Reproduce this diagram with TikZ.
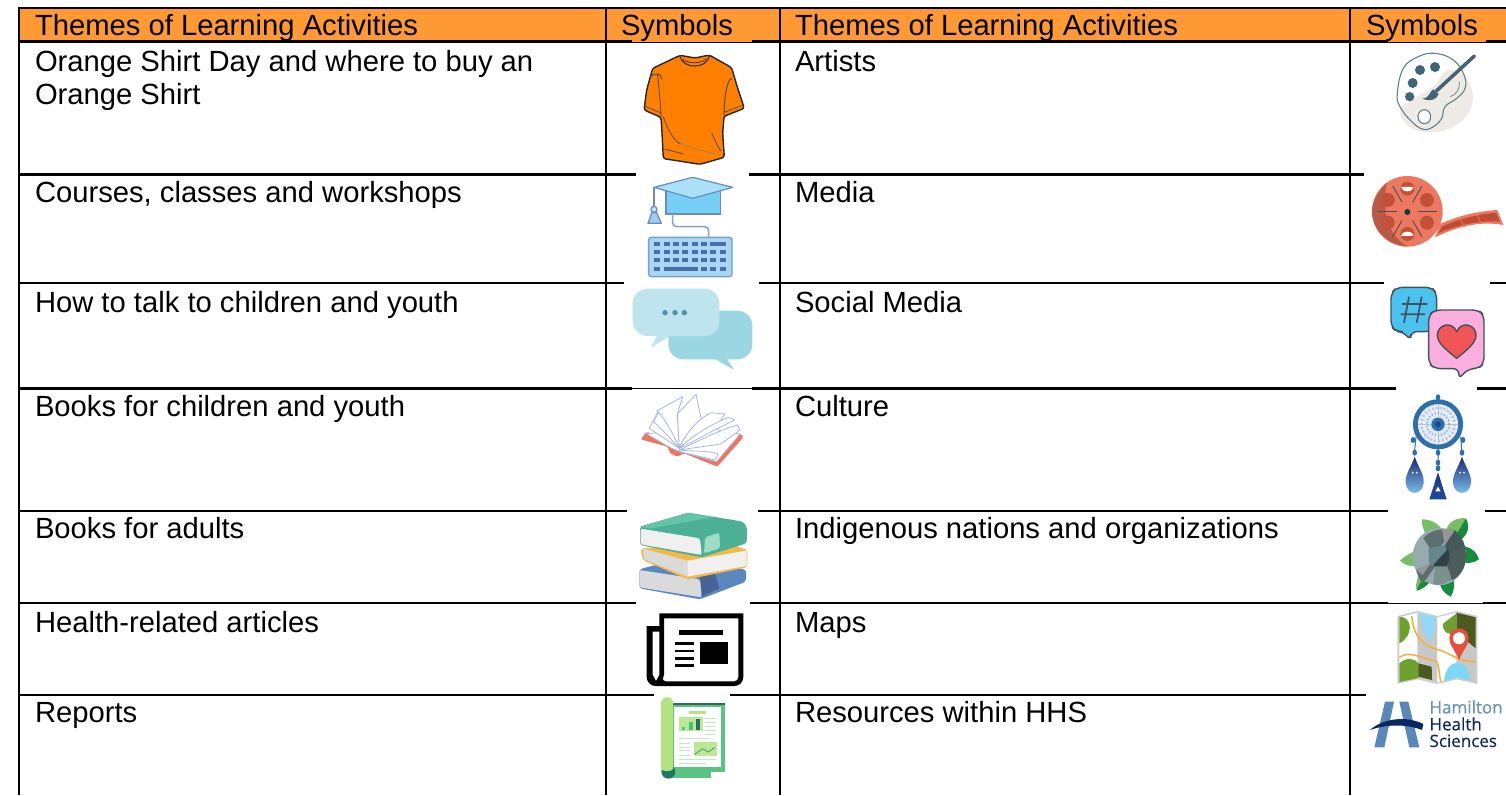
\documentclass[tikz,border=0pt]{standalone}
\usepackage{fontspec}
\setmainfont{Liberation Sans}
\newfontfamily\logofont[FakeBold=0.35]{Open Sans}
\usetikzlibrary{calc}
\definecolor{hdr}{HTML}{FF9933}
\definecolor{shirt}{HTML}{FF8000}
\definecolor{capb}{HTML}{76D0F5}
\definecolor{capl}{HTML}{AAE0F8}
\definecolor{capline}{HTML}{698CBE}
\definecolor{capbead}{HTML}{C3E4F5}
\definecolor{captri}{HTML}{A0CDEE}
\definecolor{capwire}{HTML}{87A0CD}
\definecolor{keyb}{HTML}{AAD6F5}
\definecolor{keyline}{HTML}{78A0CD}
\definecolor{keyk}{HTML}{4B6EA5}
\definecolor{bubd}{HTML}{9BD7E2}
\definecolor{bubl}{HTML}{BEE4ED}
\definecolor{bubdot}{HTML}{558CAF}
\definecolor{bookred}{HTML}{EC7662}
\definecolor{pageline}{HTML}{A5B9DE}
\definecolor{stkblue}{HTML}{5A87C0}
\definecolor{stknavy}{HTML}{486496}
\definecolor{stkgrey}{HTML}{DADADA}
\definecolor{stkyel}{HTML}{F2B948}
\definecolor{stkwhite}{HTML}{F0F0F0}
\definecolor{stkgreen}{HTML}{4AB096}
\definecolor{stkgreenl}{HTML}{64C3A8}
\definecolor{stkmint}{HTML}{A0DCC8}
\definecolor{repgreen}{HTML}{5AC382}
\definecolor{repdark}{HTML}{1E7864}
\definecolor{repdk}{HTML}{286E5F}
\definecolor{replime}{HTML}{B4E482}
\definecolor{replimeb}{HTML}{BAE896}
\definecolor{repmid}{HTML}{4BBE78}
\definecolor{repline}{HTML}{BEE8C8}
\definecolor{repchart}{HTML}{3C8264}
\definecolor{palbg}{HTML}{EEEAE4}
\definecolor{palline}{HTML}{5F8291}
\definecolor{paldk}{HTML}{416476}
\definecolor{reel}{HTML}{EB785F}
\definecolor{reeld}{HTML}{BE4B32}
\definecolor{reeldd}{HTML}{B85A44}
\definecolor{reelh}{HTML}{C35037}
\definecolor{reels}{HTML}{46505A}
\definecolor{reelc}{HTML}{0F3746}
\definecolor{smblue}{HTML}{4BC3F0}
\definecolor{smline}{HTML}{46505A}
\definecolor{smpink}{HTML}{FAAFDE}
\definecolor{smred}{HTML}{F25555}
\definecolor{dcb}{HTML}{2D6EAF}
\definecolor{dcp}{HTML}{AFC3DC}
\definecolor{dcq}{HTML}{78A0CD}
\definecolor{dcc}{HTML}{144B91}
\definecolor{dcn}{HTML}{192878}
\definecolor{dcl}{HTML}{82C8F0}
\definecolor{dcm}{HTML}{1955A0}
\definecolor{dct}{HTML}{1E4696}
\definecolor{dcu}{HTML}{1E3782}
\definecolor{tla}{HTML}{78BE64}
\definecolor{tlb}{HTML}{148C3C}
\definecolor{tga}{HTML}{95ABAE}
\definecolor{tgb}{HTML}{5C6E6E}
\definecolor{tgc}{HTML}{969696}
\definecolor{tgd}{HTML}{46585A}
\definecolor{tge}{HTML}{64878C}
\definecolor{tgf}{HTML}{4B5C5A}
\definecolor{tgg}{HTML}{2D4146}
\definecolor{tgh}{HTML}{7D918C}
\definecolor{mapg}{HTML}{CDCDCD}
\definecolor{mapi}{HTML}{C8C8C8}
\definecolor{mapa}{HTML}{6EA02D}
\definecolor{mapb}{HTML}{4B5A1E}
\definecolor{mapw}{HTML}{91DAF5}
\definecolor{mapx}{HTML}{7DD7F5}
\definecolor{mapr}{HTML}{F5AF32}
\definecolor{mapp}{HTML}{E84E3E}
\definecolor{hhl}{HTML}{5A87B9}
\definecolor{hht}{HTML}{6491BE}
\definecolor{hhd}{HTML}{0A285F}
\tikzset{
 cell/.style={anchor=base west,inner sep=0pt,outer sep=0pt,font=\fontsize{29.2}{29.2}\selectfont,text=black},
 rule/.style={line width=2.2pt,black},
 thinrule/.style={line width=1pt,black},
 zoomed/.style={x=0.33333pt,y=-0.33333pt},
 logotext/.style={anchor=base west,inner sep=0pt,font=\logofont\fontsize{17}{17}\selectfont},
}
\begin{document}
\begin{tikzpicture}[x=1pt,y=-1pt]
\useasboundingbox (0,0) rectangle (1506,795);
\fill[white] (0,0) rectangle (1506,795);
\fill[hdr] (19,9) rectangle (1506,41.5);
% rules
\draw[rule] (19,8) -- (1506,8);
\foreach \x in {19,606,780,1350}{\draw[rule] (\x,7) -- (\x,795);}
\draw[rule] (19,41.5) -- (632,41.5);
\draw[thinrule] (632,42) -- (752,42);
\draw[rule] (752,41.5) -- (1388,41.5);
\draw[thinrule] (1388,42) -- (1486,42);
\draw[rule] (1486,41.5) -- (1506,41.5);
\foreach \y/\a/\b/\c/\d in {
 174.5/636/749/1364/1506,
 282.7/624/759/1384/1490,
 388.5/632/752/1396/1477,
 510.7/627/758/1388/1485,
 602.7/636/750/1388/1483,
 694.7/654/730/1366/1506}{
  \draw[rule] (19,\y) -- (\a,\y);
  \draw[rule] (\b,\y) -- (\c,\y);
  \draw[rule] (\d,\y) -- (1506,\y);
}
\draw[thinrule] (632,388.5) -- (752,388.5);
\draw[thinrule] (1388,603) -- (1483,603);
% text
\node[cell] (h1) at (35,35) {Themes of Learning Activities};
\node[cell] (s1) at (621,35) {Symbols};
\node[cell] (h2) at (795,35) {Themes of Learning Activities};
\node[cell] (s2) at (1366,35) {Symbols};
\node[cell] (l1a) at (35,71) {Orange Shirt Day and where to buy an};
\node[cell] (l1b) at (35,104) {Orange Shirt};
\node[cell] (l2) at (35,202) {Courses, classes and workshops};
\node[cell] (l3) at (35,312) {How to talk to children and youth};
\node[cell] (l4) at (35,416) {Books for children and youth};
\node[cell] (l5) at (35,538) {Books for adults};
\node[cell] (l6) at (35,632) {Health-related articles};
\node[cell] (l7) at (35,722) {Reports};
\node[cell] (r1) at (795,71) {Artists};
\node[cell] (r2) at (795,202) {Media};
\node[cell] (r3) at (795,312) {Social Media};
\node[cell] (r4) at (795,416) {Culture};
\node[cell] (r5) at (795,538) {Indigenous nations and organizations};
\node[cell] (r6) at (795,632) {Maps};
\node[cell] (r7) at (795,722) {Resources within HHS};

% ---------- left icons, zoom 1
\begin{scope}[shift={(600,0)},zoomed]
% t-shirt
\draw[fill=shirt,draw=black!85,line width=1.4pt,line join=round,rounded corners=2.5pt]
 (240,166) -- (285,174) -- (328,165) -- (395,203) -- (410,255) -- (433,325) -- (372,349) -- (368,400) -- (373,472) -- (300,493) -- (250,485) -- (190,476) -- (186,400) -- (183,352) -- (132,330) -- (140,270) -- (158,205) -- cycle;
\draw[black!85,line width=1pt] (240,170) .. controls (250,208) and (320,208) .. (328,168);
\draw[black!85,line width=.7pt] (248,178) .. controls (265,192) and (305,192) .. (320,176);
\draw[black!70,line width=1pt] (150,232) .. controls (165,215) and (185,220) .. (185,238);
\draw[black!70,line width=.8pt] (172,222) .. controls (178,270) and (182,320) .. (183,352);
\draw[black!70,line width=1pt] (395,235) .. controls (378,240) and (372,310) .. (372,347);
\draw[black!70,line width=.7pt] (134,318) -- (186,340) (372,337) -- (430,315);
\draw[black!70,line width=.8pt] (190,350) .. controls (205,395) and (220,415) .. (238,432);
\draw[black!70,line width=.8pt] (195,448) .. controls (215,452) and (235,458) .. (250,462);
\draw[black!70,line width=.8pt] (335,400) .. controls (345,420) and (350,435) .. (362,452);
\draw[black!50,line width=.6pt] (225,420) .. controls (265,445) and (305,450) .. (345,462);
% grad cap
\draw[fill=capb,draw=capline,line width=1.2pt] (198,570) rectangle (362,642);
\draw[fill=capl,draw=capline,line width=1.2pt,line join=round] (162,562) -- (278,532) -- (398,562) -- (278,595) -- cycle;
\draw[capline,line width=1.2pt] (162,562) -- (162,620);
\draw[fill=capbead,draw=capline,line width=1.2pt] (162,628) circle (9);
\draw[fill=captri,draw=capline,line width=1.2pt,line join=round] (155,638) -- (170,638) -- (184,670) -- (144,670) -- cycle;
\draw[capwire,line width=1.6pt,rounded corners=4pt] (218,642) -- (218,680) -- (326,680) -- (326,712);
\draw[fill=keyb,draw=keyline,line width=1.4pt,rounded corners=2.5pt] (146,712) rectangle (396,830);
\foreach \yy in {727,750,774}{
  \foreach \xx in {163,191,219,247,275,303}{\fill[keyk] (\xx,\yy) rectangle +(18,12);}
}
\fill[keyk] (331,727) rectangle (377,739);
\foreach \yy in {750,774}{\foreach \xx in {331,359}{\fill[keyk] (\xx,\yy) rectangle +(18,12);}}
\fill[keyk] (163,802) rectangle +(18,12);
\fill[keyk] (191,802) rectangle (293,814);
\foreach \xx in {303,331,359}{\fill[keyk] (\xx,802) rectangle +(18,12);}
\end{scope}

% ---------- left icons, zoom 2
\begin{scope}[shift={(600,280)},zoomed]
% bubbles
\fill[bubd,rounded corners=15pt] (205,92) rectangle (457,238);
\fill[bubd] (340,234) -- (402,270) -- (378,232) -- cycle;
\fill[bubl,rounded corners=15pt] (98,26) rectangle (358,168);
\fill[bubl] (172,164) -- (152,203) -- (205,172) -- (205,164) -- cycle;
\foreach \xx in {195,225,253}{\fill[bubdot] (\xx,98) circle (8);}
% open book
\fill[bookred,rounded corners=1.5pt] (122,478) -- (140,455) -- (240,500) -- (425,462) -- (430,472) -- (352,560) -- (252,520) -- (232,530) -- (210,520) -- (203,500) -- cycle;
\begin{scope}[fill=white,draw=pageline,line width=.8pt,line join=round]
\filldraw (140,462) -- (215,505) -- (240,515) -- (350,545) -- (420,462) -- (300,440) -- cycle;
\filldraw (148,445) -- (175,392) -- (238,505) -- cycle;
\filldraw (160,425) -- (178,395) -- (235,480) -- (238,505) .. controls (205,470) and (180,440) .. (160,425) -- cycle;
\filldraw (172,392) -- (248,350) -- (232,402) -- (238,505) .. controls (220,460) and (195,420) .. (172,392) -- cycle;
\filldraw (232,402) -- (288,343) -- (305,425) .. controls (270,445) and (250,475) .. (238,505) -- cycle;
\filldraw (238,505) .. controls (260,450) and (305,410) .. (335,398) -- (375,402) -- (355,430) .. controls (310,445) and (270,480) .. (238,505) -- cycle;
\filldraw (238,505) .. controls (280,465) and (330,435) .. (385,412) -- (405,420) .. controls (340,450) and (290,480) .. (238,505) -- cycle;
\filldraw (238,510) .. controls (300,480) and (360,450) .. (412,435) -- (420,450) -- (362,492) .. controls (320,498) and (270,505) .. (238,510) -- cycle;
\filldraw (238,510) .. controls (275,515) and (320,510) .. (355,522) -- (345,540) -- (240,515) -- cycle;
\end{scope}
% stack of books
\fill[stkblue,rounded corners=3pt] (118,868) -- (165,855) -- (438,868) -- (438,905) -- (300,958) -- (118,925) -- cycle;
\fill[stknavy] (300,890) -- (345,880) -- (358,925) -- (305,950) -- cycle;
\fill[stkgrey,rounded corners=2pt] (118,870) -- (300,898) -- (305,952) -- (118,922) -- cycle;
\fill[stkyel,rounded corners=3pt] (122,805) -- (400,795) -- (442,810) -- (442,862) -- (262,898) -- (128,840) -- cycle;
\fill[stkgrey] (128,805) -- (262,842) -- (262,890) -- (132,838) -- cycle;
\fill[stkwhite] (262,842) -- (440,812) -- (440,858) -- (262,890) -- cycle;
\fill[stkgreen,rounded corners=3pt] (120,740) -- (265,698) -- (430,725) -- (442,745) -- (440,790) -- (305,832) -- (120,795) -- cycle;
\fill[stkgreenl] (120,740) -- (265,698) -- (340,712) -- (150,745) -- cycle;
\fill[stkwhite,rounded corners=2pt] (122,746) -- (300,775) -- (305,825) -- (122,793) -- cycle;
\fill[stkmint,rounded corners=2pt] (315,772) -- (358,758) -- (360,805) -- (312,820) -- cycle;
\end{scope}

% ---------- left icons, zoom 3
\begin{scope}[shift={(600,600)},zoomed]
% newspaper
\path[fill=black,even odd rule] (178,40) -- (430,40) [rounded corners=9pt] -- (430,258) -- (140,258) -- (140,200) [sharp corners] -- (140,78) -- (178,78) -- cycle
  (192,55) -- (415,55) [rounded corners=4pt] -- (415,244) -- (185,244) [sharp corners] -- (192,225) -- cycle
  (158,95) -- (178,95) -- (178,225) -- (168,243) -- (158,225) -- cycle;
\fill (238,90) rectangle (368,104);
\fill (299,127) rectangle (383,193);
\foreach \yy in {127,149,171,192}{\fill (226,\yy) rectangle (281,\yy+8);}
% report
\fill[repgreen] (200,310) rectangle (375,515);
\fill[repdk] (215,310) -- (375,310) -- (375,316) -- (215,316) -- cycle;
\fill[repgreen] (200,505) rectangle (332,535);
\fill[repdark] (205,515) circle (21);
\fill[replime] (183,310) rectangle (220,505);
\fill[replime] (201.5,310) circle (18.5);
\fill[replime] (201.5,505) ellipse (18.5 and 8);
\fill[white] (222,322) rectangle (363,502);
\fill[replime] (268,333) rectangle (318,342);
\fill[replimeb] (237,351) rectangle (308,393);
\fill[repgreen] (245,380) rectangle (256,389);
\fill[repmid] (267,366) rectangle (279,389);
\fill[repdk] (289,356) rectangle (301,389);
\foreach \yy in {355,367,379,391,403}{\draw[repline,line width=.8pt] (316,\yy) -- (349,\yy);}
\draw[repline,line width=1pt] (237,416) -- (329,416);
\foreach \yy in {430,441,452,465}{\draw[repline,line width=.8pt] (237,\yy) -- (271,\yy);}
\fill[replimeb] (281,427) rectangle (350,467);
\draw[repchart,line width=.6pt] (284,463) -- (308,446) -- (325,456) -- (345,442);
\draw[repline,line width=1pt] (237,477) -- (349,477);
\draw[repline,line width=1pt] (237,489) -- (318,489);
\end{scope}

% ---------- right icons, zoom 4
\begin{scope}[shift={(1340,0)},zoomed]
% palette
\fill[palbg] plot[smooth cycle,tension=.7] coordinates {(180,335) (215,300) (280,260) (320,212) (370,225) (398,280) (385,340) (340,380) (285,396) (215,385)};
\draw[palline,line width=1.1pt] plot[smooth cycle,tension=.7] coordinates {(172,280) (190,205) (235,170) (285,160) (340,180) (372,225) (375,265) (350,295) (315,320) (305,355) (280,380) (250,388) (215,365) (180,320)};
\draw[palline,line width=1.1pt,fill=white] (253,350) ellipse (19 and 21);
\foreach \xx/\yy/\rr in {240/210/15,285/201/15,218/249/15,209/290/14}{\fill[paldk] (\xx,\yy) circle (\rr);}
\draw[paldk,line width=3.5pt,line cap=round] (290,272) -- (403,168);
\fill[paldk] (248,296) .. controls (268,295) and (268,275) .. (280,268) -- (296,282) .. controls (290,300) and (270,305) .. (248,296) -- cycle;
\draw[palline,line width=.7pt] (330,290) .. controls (350,285) and (360,265) .. (358,245);
% film reel
\fill[reel] (300,672) .. controls (350,650) and (400,635) .. (472,630) -- (490,675) .. controls (420,662) and (350,680) .. (285,712) -- cycle;
\fill[reeld] (305,680) .. controls (350,660) and (400,645) .. (468,638) -- (480,665) .. controls (420,660) and (350,675) .. (295,700) -- cycle;
\draw[reel,line width=.8pt] (360,657) -- (374,682) (412,645) -- (422,668);
\fill[reel] (202,634) circle (106);
\fill[reeldd] (140,548) .. controls (110,580) and (95,610) .. (96,634) .. controls (96,680) and (130,732) .. (202,740) .. controls (160,715) and (120,660) .. (140,548) -- cycle;
\foreach \ang in {90,30,-30,-90,-150,150}{
  \fill[reelh] ($(202,634)+(\ang:68)$) circle (21);
}
\path[fill=white] (183,561) arc (180:0:19 and 13) -- cycle;
\path[fill=white] (183,708) arc (-180:0:19 and 13) -- cycle;
\foreach \ang in {0,60,120,180,240,300}{
  \draw[reels,line width=.9pt] ($(202,634)+(\ang:32)$) -- ($(202,634)+(\ang:88)$);
}
\fill[reelc] (202,636) circle (9);
\end{scope}

% ---------- right icons, zoom 5
\begin{scope}[shift={(1340,280)},zoomed]
% social media
\draw[fill=smblue,draw=smline,line width=1.4pt,rounded corners=6pt,line join=round] (153,40) -- (170,22) -- (275,22) -- (290,40) -- (290,140) -- (270,155) -- (212,155) -- (212,182) -- (190,155) -- (170,155) -- (153,140) -- cycle;
\draw[smline,line width=1.7pt] (207,50) -- (192,128) (245,50) -- (230,128) (186,72) -- (262,72) (182,103) -- (255,103);
\draw[fill=smpink,draw=smline,line width=1.4pt,rounded corners=6pt,line join=round] (266,105) -- (285,90) -- (415,90) -- (432,105) -- (432,250) -- (415,266) -- (385,266) -- (355,298) -- (358,266) -- (285,266) -- (266,250) -- cycle;
\draw[fill=smred,draw=smline,line width=1.4pt,line join=round] (350,235) .. controls (320,210) and (292,190) .. (292,165) .. controls (292,135) and (335,120) .. (350,155) .. controls (365,120) and (408,135) .. (408,165) .. controls (408,190) and (380,210) .. (350,235) -- cycle;
% dream catcher
\draw[dcb,line width=1pt] (294,500) -- (294,545) (228,470) -- (224,510) (362,470) -- (365,510);
\fill[dcp!25] (294,433) circle (62);
\foreach \ang in {0,15,...,345}{\draw[dcp,line width=.3pt] (294,433) -- ++(\ang:62);}
\draw[dcb,line width=4.8pt] (294,433) circle (68);
\draw[dcp,line width=2pt,dotted] (294,433) circle (50);
\draw[dcq,line width=1.3pt,dotted] (294,433) circle (34);
\fill[dcb] (294,433) circle (20);
\fill[dcc] (294,433) circle (9);
\foreach \xx/\yy in {294/352,219/480,369/480,294/518,294/548,294/565,224/518,366/518}{\fill[dcb] (\xx,\yy) ellipse (7 and 9);}
\foreach \xx in {224,366}{
  \shade[top color=dcn,middle color=dcm,bottom color=dcl] (\xx,530) .. controls (\xx+10,560) and (\xx+30,585) .. (\xx+27,610) .. controls (\xx+22,648) and (\xx-22,648) .. (\xx-27,610) .. controls (\xx-30,585) and (\xx-10,560) .. (\xx,530) -- cycle;
  \fill[white] (\xx-6,578) circle (3) (\xx+6,578) circle (3);
}
\fill[dct] (294,578) -- (320,658) -- (268,658) -- cycle;
\fill[white] (294,620) -- (302,634) -- (286,634) -- cycle;
\fill[dcu] (294,578) -- (304,610) -- (284,610) -- cycle;
% turtle
\fill[tla] (258,765) .. controls (248,745) and (245,730) .. (245,718) .. controls (275,718) and (295,730) .. (310,755) -- cycle;
\fill[tla] (318,755) .. controls (322,725) and (350,712) .. (378,715) -- (360,770) -- cycle;
\fill[tlb] (345,770) -- (378,715) .. controls (390,740) and (385,762) .. (362,780) -- cycle;
\fill[tlb] (365,798) .. controls (395,800) and (412,820) .. (417,838) .. controls (400,850) and (385,850) .. (365,848) -- cycle;
\fill[tla] (228,812) .. controls (205,822) and (190,832) .. (180,842) .. controls (195,857) and (212,860) .. (232,858) -- cycle;
\fill[tla] (238,880) .. controls (228,905) and (226,920) .. (230,932) .. controls (245,928) and (260,918) .. (270,905) -- cycle;
\fill[tlb] (240,908) -- (230,932) .. controls (245,928) and (260,918) .. (270,905) -- cycle;
\fill[tlb] (300,905) .. controls (298,925) and (315,942) .. (332,950) .. controls (342,935) and (345,915) .. (340,895) -- cycle;
\fill[tga] (298,830) ellipse (80 and 86);
\fill[tgb] (250,775) .. controls (270,750) and (300,745) .. (345,750) -- (300,800) -- (270,805) -- cycle;
\fill[tgc] (305,745) -- (345,750) -- (315,795) -- cycle;
\fill[tgd] (345,750) .. controls (360,765) and (372,785) .. (375,800) -- (325,830) -- (315,795) -- cycle;
\fill[tge] (265,805) -- (315,795) -- (325,830) -- (280,862) -- (268,850) -- cycle;
\fill[tgf] (378,830) .. controls (378,860) and (360,890) .. (335,900) -- (322,860) -- (325,830) -- (375,800) -- cycle;
\fill[tgg] (325,805) -- (328,840) -- (320,860) -- (285,860) -- (280,855) -- cycle;
\fill[tgb] (228,870) -- (270,852) -- (285,860) -- (248,912) .. controls (240,900) and (232,885) .. (228,870) -- cycle;
\fill[tgc] (228,870) -- (270,852) -- (248,885) -- cycle;
\fill[tgh] (285,860) -- (322,860) -- (335,898) .. controls (315,912) and (295,918) .. (280,912) -- cycle;
\end{scope}

% ---------- right icons, zoom 6
\begin{scope}[shift={(1340,600)},zoomed]
% map
\fill[mapg] (172,48) -- (232,33) -- (292,48) -- (350,33) -- (412,48) -- (412,252) -- (350,238) -- (292,252) -- (232,238) -- (172,252) -- cycle;
\fill[white] (178,52) -- (232,38) -- (292,52) -- (292,248) -- (232,232) -- (178,246) -- cycle;
\fill[mapi] (232,38) -- (292,52) -- (292,248) -- (232,232) -- cycle;
\fill[white] (292,52) -- (350,38) -- (350,232) -- (292,248) -- cycle;
\fill[mapi] (350,38) -- (407,52) -- (407,248) -- (350,232) -- cycle;
\fill[mapa] (178,50) .. controls (220,50) and (220,110) .. (178,130) -- cycle;
\fill[mapa] (178,190) .. controls (200,170) and (225,175) .. (235,190) -- (235,234) -- (178,246) -- cycle;
\fill[mapb] (235,190) -- (275,200) -- (276,240) -- (235,230) -- cycle;
\fill[mapa] (350,40) -- (310,70) .. controls (305,90) and (320,110) .. (350,98) -- cycle;
\fill[mapb] (350,38) -- (407,52) -- (407,145) -- (350,98) -- cycle;
\fill[mapw] (236,40) -- (286,50) .. controls (286,80) and (280,115) .. (270,125) .. controls (255,110) and (250,80) .. (236,40) -- cycle;
\fill[mapx] (312,244) .. controls (318,170) and (385,170) .. (390,240) -- (350,232) -- cycle;
\draw[mapr,line width=1.5pt] (215,48) .. controls (220,90) and (230,130) .. (290,148) .. controls (320,152) and (350,185) .. (407,185);
\draw[mapr,line width=1.5pt] (178,172) .. controls (210,150) and (240,175) .. (285,182) .. controls (300,190) and (295,225) .. (303,245);
\fill[mapp] (357,180) .. controls (345,150) and (328,135) .. (328,115) .. controls (328,75) and (386,75) .. (386,115) .. controls (386,135) and (369,150) .. (357,180) -- cycle;
\fill[white] (357,115) circle (18);
% HHS logo
\fill[hhl] (135,305) -- (162,305) -- (133,442) -- (103,442) -- cycle;
\fill[hhl] (178,305) -- (205,305) -- (238,442) -- (208,442) -- cycle;
\fill[hhd] (90,390) .. controls (120,362) and (190,342) .. (250,372) -- (246,390) .. controls (200,372) and (140,372) .. (90,390) -- cycle;
\node[logotext,text=hht] (hh1) at (268,340) {Hamilton};
\node[logotext,text=hhd] (hh2) at (268,391) {Health};
\node[logotext,text=hhd] (hh3) at (268,441) {Sciences};
\end{scope}
\end{tikzpicture}
\end{document}
